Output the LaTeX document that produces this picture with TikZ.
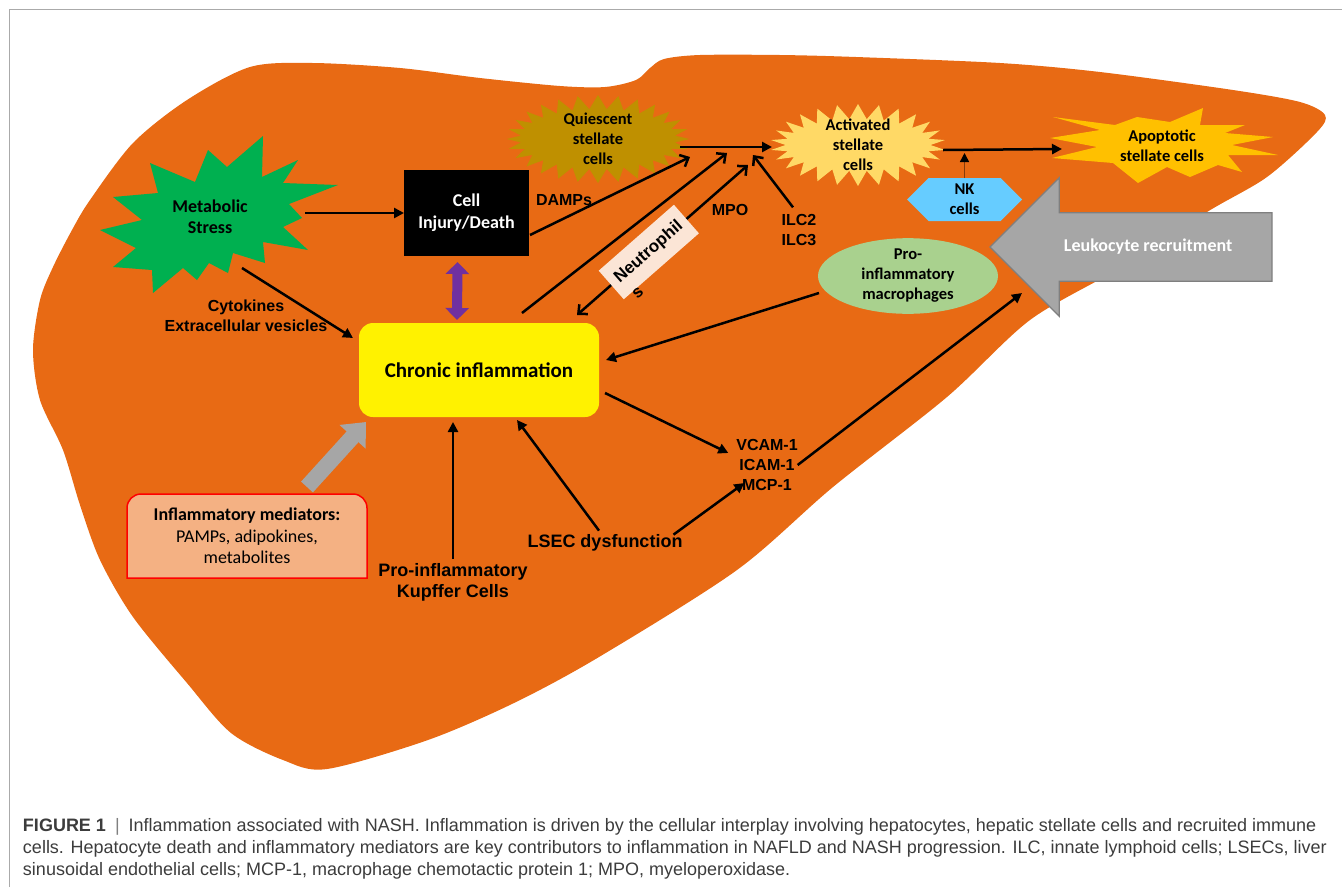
\documentclass[tikz,border=0pt]{standalone}
\usepackage{fontspec}
\setmainfont{Liberation Sans}
\newfontfamily\cali{Carlito}
\usepackage{tikz}
\usetikzlibrary{positioning}
\usetikzlibrary{arrows.meta}
\usetikzlibrary{shapes.symbols}
\usetikzlibrary{shapes.arrows}
\usetikzlibrary{shapes.geometric}
\usetikzlibrary{calc}
\usepackage{xcolor}
\definecolor{liver}{HTML}{E86A14}
\definecolor{msgreen}{HTML}{00B050}
\definecolor{qgold}{HTML}{BF9000}
\definecolor{actyel}{HTML}{FFD966}
\definecolor{apoyel}{HTML}{FFC000}
\definecolor{nkblue}{HTML}{66CCFF}
\definecolor{macgreen}{HTML}{A9D18E}
\definecolor{blockgray}{HTML}{A6A6A6}
\definecolor{blockedge}{HTML}{7F7F7F}
\definecolor{medfill}{HTML}{F4B183}
\definecolor{neufill}{HTML}{FBE5D6}
\definecolor{purp}{HTML}{7030A0}
\definecolor{nkline}{HTML}{843C0C}
\definecolor{captxt}{HTML}{3C3C3C}
\definecolor{framegray}{HTML}{AAAAAA}
\pgfdeclarelayer{back}
\pgfdeclarelayer{boxlayer}
\pgfsetlayers{back,boxlayer,main}

\begin{document}
\begin{tikzpicture}[x=1pt, y=-1pt,
    every node/.style={inner sep=0pt, outer sep=0pt},
    lbl/.style={font=\bfseries\fontsize{16}{20}\selectfont, align=center},
    biglbl/.style={font=\bfseries\fontsize{18}{21}\selectfont, align=center},
    celltxt/.style={font=\cali\bfseries\fontsize{16.5}{20}\selectfont, align=center},
    burst/.style={starburst, random starburst=0, celltxt},
    neubox/.style={fill=neufill, minimum width=100pt, minimum height=38pt, font=\bfseries\fontsize{17}{20}\selectfont},
    arr/.style={line width=2.5pt, -{Triangle[length=10pt, width=10pt]}},
    barb/.style={line width=2.5pt, -{Straight Barb[length=7pt, width=13pt]}},
    blockarr/.style={line width=16pt, blockgray, -{Triangle[length=20pt, width=34pt]}},
]
    \useasboundingbox (0,0) rectangle (1342,887);

    \begin{pgfonlayer}{back}
    \draw[framegray, line width=1pt] (9,887) -- (9,9) -- (1342,9);
    \fill[liver] plot[smooth cycle, tension=0.5] coordinates {
        (187,100) (250,67) (313,63) (400,68) (480,78) (560,86) (605,87) (636,80) (650,68) (664,59) (700,55)
        (780,55) (856,57) (1000,63) (1100,72) (1233,90) (1300,102) (1325,115) (1317,132) (1267,177)
        (1207,212) (1120,268) (1030,320) (947,397) (833,487) (737,570) (599,657)
        (514,703) (428,740) (327,769) (283,760) (231,733) (187,683) (133,617) (100,560) (80,505) (63,450)
        (40,400) (33,350) (40,300) (53,267) (72,230) (90,200) (133,143)};
    \end{pgfonlayer}

    % metabolic stress star
    \fill[msgreen] (263,136) -- (262,177) -- (298,160) -- (283,183) -- (338,185) -- (289,204) -- (302,218)
        -- (283,227) -- (308,250) -- (263,242) -- (265,263) -- (233,253) -- (228,273) -- (209,263)
        -- (197,280) -- (183,268) -- (153,293) -- (152,270) -- (113,267) -- (136,248) -- (100,230)
        -- (142,220) -- (113,197) -- (158,193) -- (150,163) -- (195,182) -- (208,150) -- (227,167) -- cycle;
    \node[align=center, font=\cali\bfseries\fontsize{18}{21}\selectfont] (ms) at (210,217) {Metabolic\\Stress};

    % apoptotic star
    \fill[apoyel] (1053,117) -- (1100,130) -- (1050,138) -- (1097,147) -- (1052,158) -- (1113,163)
        -- (1138,183) -- (1167,167) -- (1190,177) -- (1218,165) -- (1242,172) -- (1228,155)
        -- (1278,155) -- (1232,145) -- (1273,137) -- (1225,133) -- (1245,125) -- (1200,125)
        -- (1203,108) -- (1170,122) -- (1137,117) -- (1115,125) -- cycle;
    \node[celltxt] (apo) at (1162,146) {Apoptotic\\stellate cells};

    \node[fill=black, text=white, minimum width=125pt, minimum height=86pt, align=center,
        font=\cali\bfseries\fontsize{18}{22}\selectfont] (cid) at (466.5,213) {Cell\\Injury/Death};
    \node[fill=yellow, rounded corners=14pt, minimum width=240pt, minimum height=94pt,
        font=\cali\bfseries\fontsize{21}{25}\selectfont] (ci) at (479,370) {Chronic inflammation};
    \node[minimum width=240pt, minimum height=84pt, align=center,
        font=\cali\fontsize{18}{21.5}\selectfont] (im) at (247,536) {\textbf{Inflammatory mediators:}\\PAMPs, adipokines,\\metabolites};
    \begin{pgfonlayer}{boxlayer}
    \filldraw[fill=medfill, draw=red, line width=1.5pt] (im.south west) [rounded corners=14pt] -- (im.north west) -- (im.north east) [sharp corners] -- (im.south east) -- cycle;
    \end{pgfonlayer}

    \node[burst, fill=qgold, starburst points=28, starburst point height=14pt, inner ysep=-8pt,
        minimum width=183pt, minimum height=88pt] (qsc) at (598,139) {Quiescent\\stellate\\cells};
    \node[burst, fill=actyel, starburst points=26, starburst point height=15pt, inner ysep=-11pt,
        minimum width=175pt, minimum height=82pt] (asc) at (858,145) {Activated\\stellate\\cells};
    \node[signal, signal to=west and east, signal pointer angle=90, fill=nkblue,
        minimum width=115pt, minimum height=43pt, celltxt] (nk) at (964.5,199.5) {NK\\cells};
    \node[single arrow, shape border rotate=180, fill=blockgray, draw=blockedge, line width=1.2pt,
        inner ysep=26pt, inner xsep=10pt, single arrow tip angle=90, single arrow head extend=35pt,
        minimum height=282pt, anchor=tip, text=white, font=\cali\bfseries\fontsize{18}{22}\selectfont] (lr) at (990,247) {Leukocyte recruitment};
    \node[ellipse, fill=macgreen, minimum width=180pt, minimum height=63pt, celltxt] (mac) at (908,276) {Pro-\\inflammatory\\macrophages};

    \node[lbl] (cyt) at (246,316) {Cytokines\\Extracellular vesicles};
    \node[lbl] (damps) at (564,200) {DAMPs};
    \node[lbl] (mpo) at (730,210) {MPO};
    \node[lbl] (ilc) at (799,230) {ILC2\\ILC3};
    \node[lbl] (vcam) at (767,465) {VCAM-1\\ICAM-1\\MCP-1};
    \node[biglbl] (kup) at (453,582) {Pro-inflammatory\\Kupffer Cells};
    \node[biglbl] (lsec) at (605,543) {LSEC dysfunction};

    \coordinate (lrhit) at ($(lr.tip)+(32,46)$);
    \coordinate (nkhit) at ($(nk.north)+(0,-25)$);

    \draw[arr] ($(ms.center)+(95,-4)$) -- (cid.west);
    \draw[arr] ($(ms.center)+(32,51)$) -- ($(ci.north west)+(-6,15)$);
    \draw[purp, line width=10pt, {Triangle[length=12pt, width=23pt]}-{Triangle[length=12pt, width=23pt]}]
        ($(cid.south)+(-9,6)$) -- ($(ci.north)+(-22,-3)$);
    \draw[blockarr] ($(im.north east)+(-60,-7)$) -- ($(ci.south west)+(7,5)$);
    \draw[arr] ($(kup.north)+(0,-4)$) -- ($(ci.south)+(-26,5)$);
    \draw[arr] ($(lsec.north)+(-6,-4)$) -- ($(ci.south)+(38,3)$);
    \draw[arr] ($(lsec.north east)+(-9,0)$) -- ($(vcam.west)+(8,18)$);
    \draw[arr] ($(ci.east)+(6,23)$) -- ($(vcam.west)+(-8,-12)$);
    \draw[arr] (vcam.east) -- (lrhit);
    \draw[arr] ($(mac.west)+(1,17)$) -- ($(ci.east)+(7,-10)$);
    \draw[barb] ($(cid.east)+(1,22)$) -- ($(qsc.center)+(92,18)$);
    \draw[barb] ($(ci.north)+(43,-10)$) -- ($(asc.center)+(-131,8)$);
    \draw[barb, {Straight Barb[length=7pt, width=13pt]}-{Straight Barb[length=7pt, width=13pt]}]
        ($(ci.north)+(98,-8)$) -- node[neubox, sloped, pos=0.42] (neu) {Neutrophil} ($(asc.center)+(-110,20)$);
    \node[rotate=41, anchor=north west, xshift=10pt, font=\bfseries\fontsize{17}{20}\selectfont] (neus) at (neu.south west) {s};
    \draw[barb] ($(ilc.north)+(-6,-7)$) -- ($(asc.center)+(-105,10)$);
    \draw[arr] ($(qsc.center)+(82,8)$) -- ($(asc.center)+(-86,2)$);
    \draw[arr] ($(asc.center)+(85,5)$) -- ($(apo.center)+(-100,3)$);
    \draw[nkline, line width=1.5pt, -{Triangle[length=9pt, width=9pt, color=black]}] (nk.north) -- (nkhit);

    \node[anchor=north west, align=left, text=captxt, font=\fontsize{18}{22}\selectfont] (cap) at (23,818)
        {\textbf{FIGURE 1}\enspace{\color{gray}|}\enspace Inflammation associated with NASH. Inflammation is driven by the cellular interplay involving hepatocytes, hepatic stellate cells and recruited immune\\
        cells. Hepatocyte death and inflammatory mediators are key contributors to inflammation in NAFLD and NASH progression. ILC, innate lymphoid cells; LSECs, liver\\
        sinusoidal endothelial cells; MCP-1, macrophage chemotactic protein 1; MPO, myeloperoxidase.};
\end{tikzpicture}
\end{document}
